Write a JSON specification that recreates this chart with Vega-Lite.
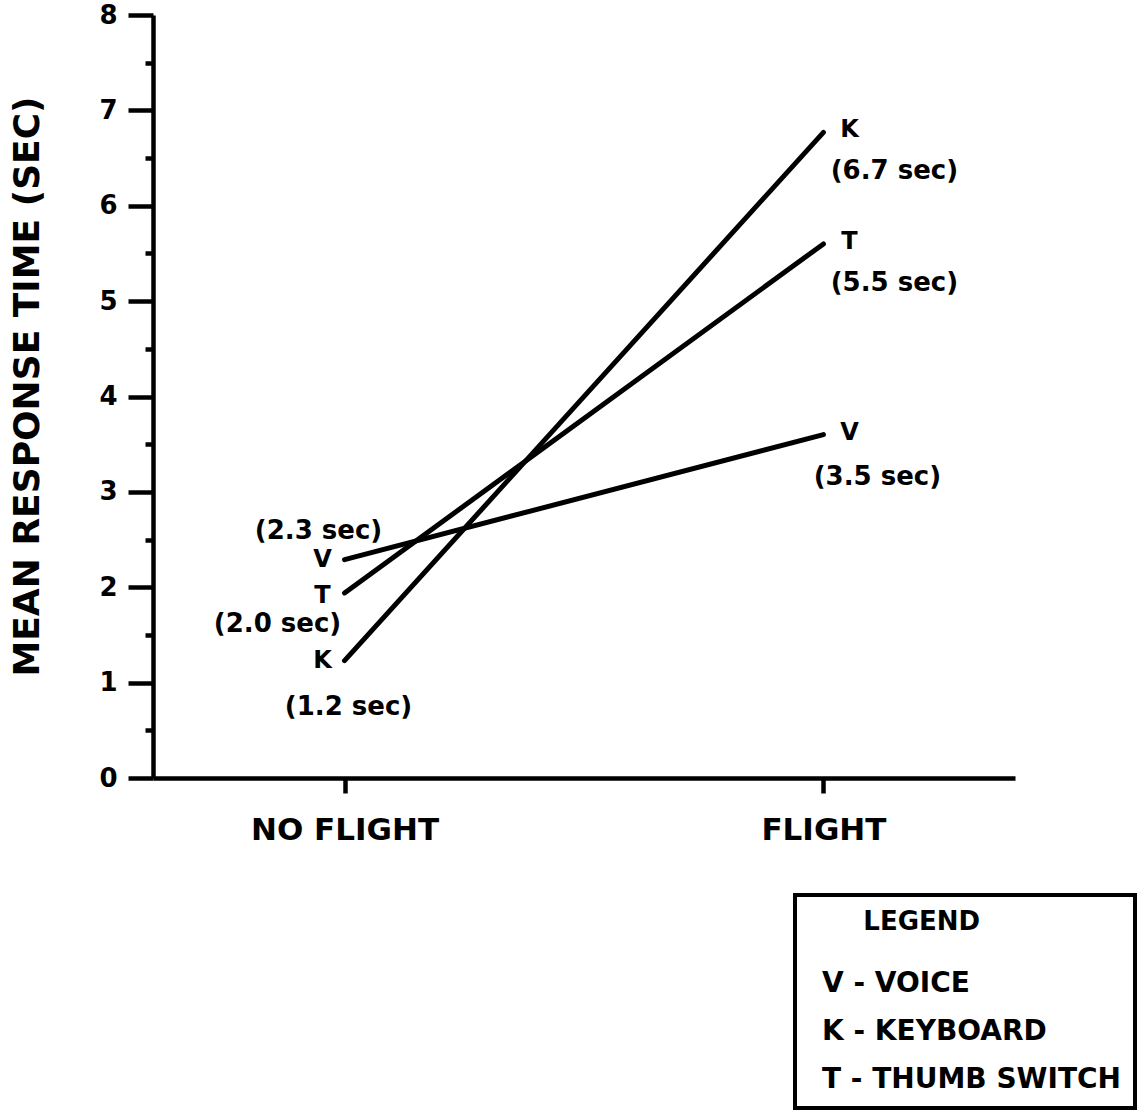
{
  "$schema": "https://vega.github.io/schema/vega-lite/v6.json",
  "width": 862,
  "height": 763,
  "autosize": {"type": "none"},
  "padding": {"left": 153, "top": 15, "right": 123, "bottom": 334},
  "background": "white",
  "config": {
    "view": {"stroke": null},
    "font": "DejaVu Sans",
    "legend": {"strokeWidth": 4},
    "axis": {
      "grid": false,
      "domainColor": "black",
      "tickColor": "black",
      "labelColor": "black",
      "titleColor": "black",
      "domainWidth": 4.5,
      "tickWidth": 4.5,
      "labelFont": "DejaVu Sans",
      "labelFontWeight": "bold",
      "titleFont": "DejaVu Sans",
      "titleFontWeight": "bold"
    }
  },
  "data": {
    "values": [
      {"device": "V", "name": "V - VOICE", "cond": "NO FLIGHT", "time": 2.29, "label": "(2.3 sec)"},
      {"device": "V", "name": "V - VOICE", "cond": "FLIGHT", "time": 3.6, "label": "(3.5 sec)"},
      {"device": "K", "name": "K - KEYBOARD", "cond": "NO FLIGHT", "time": 1.23, "label": "(1.2 sec)"},
      {"device": "K", "name": "K - KEYBOARD", "cond": "FLIGHT", "time": 6.77, "label": "(6.7 sec)"},
      {"device": "T", "name": "T - THUMB SWITCH", "cond": "NO FLIGHT", "time": 1.94, "label": "(2.0 sec)"},
      {"device": "T", "name": "T - THUMB SWITCH", "cond": "FLIGHT", "time": 5.6, "label": "(5.5 sec)"}
    ]
  },
  "encoding": {
    "x": {
      "field": "cond",
      "type": "ordinal",
      "scale": {"type": "point", "domain": ["NO FLIGHT", "FLIGHT"], "padding": 0.4},
      "axis": {
        "title": null,
        "labelAngle": 0,
        "labelFontSize": 31,
        "labelPadding": 22,
        "labelLimit": 400,
        "tickSize": 15
      }
    },
    "y": {
      "field": "time",
      "type": "quantitative",
      "scale": {"domain": [0, 8], "nice": false},
      "axis": {
        "title": "MEAN RESPONSE TIME (SEC)",
        "values": [0, 0.5, 1, 1.5, 2, 2.5, 3, 3.5, 4, 4.5, 5, 5.5, 6, 6.5, 7, 7.5, 8],
        "tickSize": {"condition": {"test": "datum.value % 1 === 0", "value": 25}, "value": 8},
        "labelExpr": "datum.value % 1 === 0 ? format(datum.value, 'd') : ''",
        "labelOverlap": false,
        "labelFontSize": 26,
        "labelPadding": 11,
        "titleFontSize": 36,
        "titleAngle": 270,
        "titleX": -115,
        "titleY": 371,
        "titleAlign": "center",
        "titleBaseline": "alphabetic"
      }
    }
  },
  "layer": [
    {
      "mark": {"type": "line", "strokeWidth": 5, "strokeCap": "round"},
      "encoding": {
        "color": {
          "field": "name",
          "type": "nominal",
          "scale": {"domain": ["V - VOICE", "K - KEYBOARD", "T - THUMB SWITCH"], "range": ["black", "black", "black"]},
          "legend": {
            "title": "\u200b\u00a0\u00a0\u00a0\u00a0\u00a0\u00a0LEGEND",
            "orient": "none",
            "legendX": 642,
            "legendY": 880,
            "padding": 14,
            "strokeColor": "black",
            "fillColor": "white",
            "titleFont": "DejaVu Sans",
            "titleFontWeight": "bold",
            "titleFontSize": 26,
            "titleColor": "black",
            "titleLimit": 400,
            "titlePadding": 35,
            "labelFont": "DejaVu Sans",
            "labelFontWeight": "bold",
            "labelFontSize": 28,
            "labelColor": "black",
            "labelLimit": 500,
            "labelOffset": -15,
            "rowPadding": 20,
            "symbolSize": 0,
            "symbolOpacity": 0,
            "symbolStrokeWidth": 0
          }
        }
      }
    },
    {
      "transform": [{"filter": "datum.cond === 'FLIGHT'"}],
      "mark": {"type": "text", "font": "DejaVu Sans", "fontWeight": "bold", "fontSize": 24, "fill": "black", "align": "center", "baseline": "middle", "dx": 26, "dy": -2},
      "encoding": {"text": {"field": "device"}}
    },
    {
      "transform": [{"filter": "datum.cond === 'NO FLIGHT' && datum.device !== 'T'"}],
      "mark": {"type": "text", "font": "DejaVu Sans", "fontWeight": "bold", "fontSize": 24, "fill": "black", "align": "center", "baseline": "middle", "dx": -22, "dy": 0},
      "encoding": {"text": {"field": "device"}}
    },
    {
      "transform": [{"filter": "datum.cond === 'NO FLIGHT' && datum.device === 'T'"}],
      "mark": {"type": "text", "font": "DejaVu Sans", "fontWeight": "bold", "fontSize": 24, "fill": "black", "align": "center", "baseline": "middle", "dx": -22, "dy": 3},
      "encoding": {"text": {"field": "device"}}
    },
    {
      "transform": [{"filter": "datum.cond === 'FLIGHT' && datum.device !== 'V'"}],
      "mark": {"type": "text", "font": "DejaVu Sans", "fontWeight": "bold", "fontSize": 26, "fill": "black", "align": "center", "baseline": "middle", "dx": 71, "dy": 39},
      "encoding": {"text": {"field": "label"}}
    },
    {
      "transform": [{"filter": "datum.cond === 'FLIGHT' && datum.device === 'V'"}],
      "mark": {"type": "text", "font": "DejaVu Sans", "fontWeight": "bold", "fontSize": 26, "fill": "black", "align": "center", "baseline": "middle", "dx": 54, "dy": 42},
      "encoding": {"text": {"field": "label"}}
    },
    {
      "transform": [{"filter": "datum.cond === 'NO FLIGHT' && datum.device === 'V'"}],
      "mark": {"type": "text", "font": "DejaVu Sans", "fontWeight": "bold", "fontSize": 26, "fill": "black", "align": "center", "baseline": "middle", "dx": -26, "dy": -29},
      "encoding": {"text": {"field": "label"}}
    },
    {
      "transform": [{"filter": "datum.cond === 'NO FLIGHT' && datum.device === 'T'"}],
      "mark": {"type": "text", "font": "DejaVu Sans", "fontWeight": "bold", "fontSize": 26, "fill": "black", "align": "center", "baseline": "middle", "dx": -67, "dy": 31},
      "encoding": {"text": {"field": "label"}}
    },
    {
      "transform": [{"filter": "datum.cond === 'NO FLIGHT' && datum.device === 'K'"}],
      "mark": {"type": "text", "font": "DejaVu Sans", "fontWeight": "bold", "fontSize": 26, "fill": "black", "align": "center", "baseline": "middle", "dx": 4, "dy": 46},
      "encoding": {"text": {"field": "label"}}
    }
  ]
}
